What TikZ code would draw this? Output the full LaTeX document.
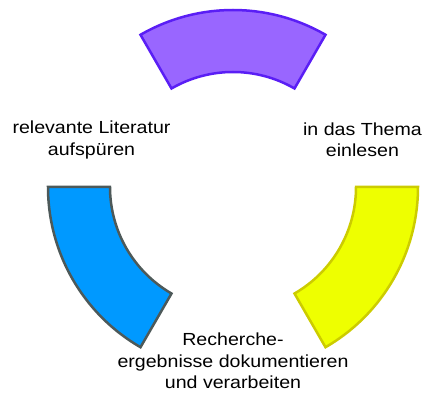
\documentclass[tikz,border=0pt]{standalone}
\usepackage{fontspec}
\setmainfont{Liberation Sans}[FakeStretch=1.12]
\usetikzlibrary{positioning}

\definecolor{violetfill}{HTML}{9966FF}
\definecolor{violetline}{HTML}{5A1EF5}
\definecolor{yellowfill}{HTML}{EEFF00}
\definecolor{yellowline}{HTML}{CCCC00}
\definecolor{bluefill}{HTML}{0099FF}
\definecolor{blueline}{HTML}{4D5959}

\tikzset{
  segment/.style={line width=2.5pt, line join=miter},
  steplabel/.style={align=center, font=\fontsize{17.5}{21.3}\selectfont, inner sep=0pt}
}

\begin{document}
\begin{tikzpicture}[x=1pt, y=1pt]
    \useasboundingbox (0,0) rectangle (426,394);
    \coordinate (ctop) at (233,199);
    \coordinate (cbot) at (233,207);
    % top segment
    \draw[segment, fill=violetfill, draw=violetline]
      ([shift={(ctop)}]60:185pt) arc[start angle=60, end angle=120, radius=185pt]
      -- ([shift={(ctop)}]120:123pt) arc[start angle=120, end angle=60, radius=123pt] -- cycle;
    % right segment
    \draw[segment, fill=yellowfill, draw=yellowline]
      ([shift={(cbot)}]0:185pt) arc[start angle=0, end angle=-60, radius=185pt]
      -- ([shift={(cbot)}]-60:123pt) arc[start angle=-60, end angle=0, radius=123pt] -- cycle;
    % left segment
    \draw[segment, fill=bluefill, draw=blueline]
      ([shift={(cbot)}]180:185pt) arc[start angle=180, end angle=240, radius=185pt]
      -- ([shift={(cbot)}]240:123pt) arc[start angle=240, end angle=180, radius=123pt] -- cycle;
    \node[steplabel] (lit) at (91.5,254) {relevante Literatur\\aufspüren};
    \node[steplabel] (thema) at (362.5,254) {in das Thema\\einlesen};
    \node[steplabel] (doku) at (233,33) {Recherche-\\ergebnisse dokumentieren\\und verarbeiten};
\end{tikzpicture}
\end{document}
